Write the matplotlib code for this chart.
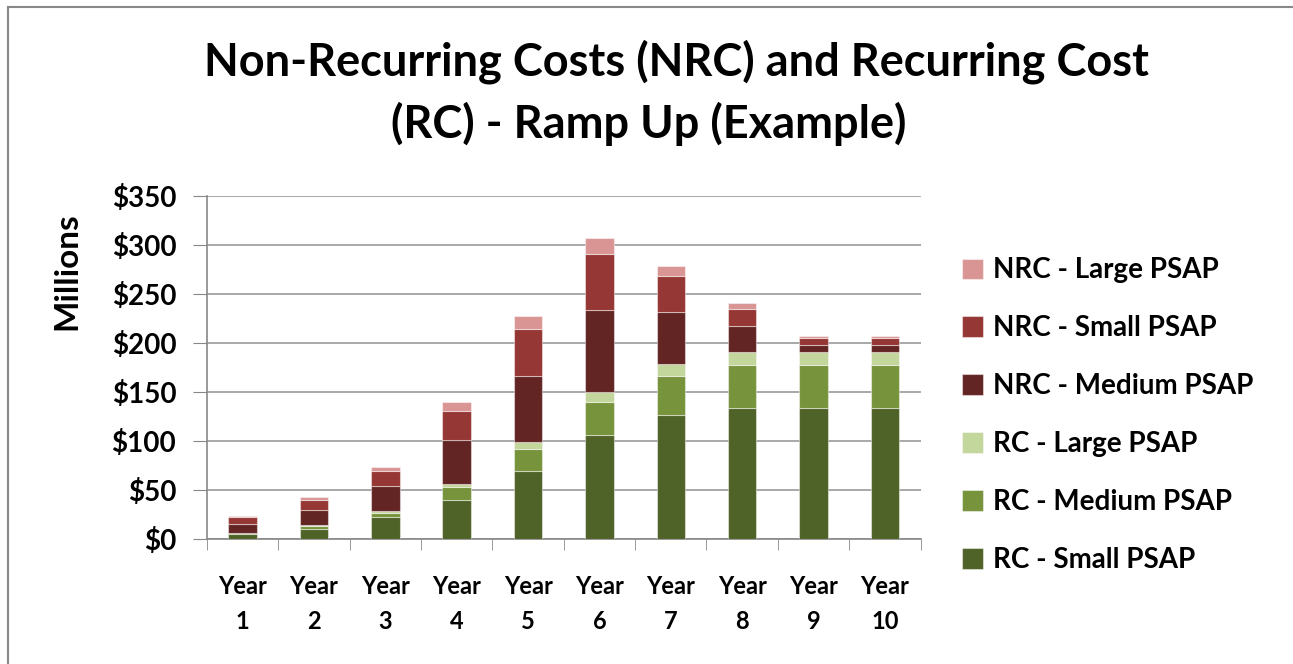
import numpy as np
import matplotlib.pyplot as plt
from matplotlib.lines import Line2D

years = ["Year\n1", "Year\n2", "Year\n3", "Year\n4", "Year\n5",
         "Year\n6", "Year\n7", "Year\n8", "Year\n9", "Year\n10"]

# millions of dollars, stacked bottom -> top
rc_small = [5.1, 10.8, 23.0, 40.0, 69.4, 106.0, 126.3, 133.7, 133.7, 133.7]
rc_medium = [1.0, 2.7, 4.0, 13.5, 22.1, 33.5, 39.7, 44.1, 44.1, 44.1]
rc_large = [0.6, 1.3, 2.1, 2.5, 7.1, 10.2, 12.9, 12.9, 12.9, 12.9]
nrc_medium = [8.5, 15.0, 25.4, 45.0, 67.4, 84.0, 53.1, 26.4, 7.5, 7.5]
nrc_small = [7.8, 10.2, 14.9, 29.7, 48.4, 56.9, 36.3, 17.7, 7.1, 7.1]
nrc_large = [0.3, 2.7, 4.1, 8.8, 12.8, 16.3, 10.5, 6.4, 1.6, 1.6]

series = [
    ("RC - Small PSAP", rc_small, "#4F6228"),
    ("RC - Medium PSAP", rc_medium, "#77933C"),
    ("RC - Large PSAP", rc_large, "#C3D69B"),
    ("NRC - Medium PSAP", nrc_medium, "#632523"),
    ("NRC - Small PSAP", nrc_small, "#953735"),
    ("NRC - Large PSAP", nrc_large, "#D99594"),
]

plt.rcParams['font.family'] = ['Lato', 'DejaVu Sans']
plt.rcParams['font.weight'] = 'bold'
plt.rcParams['axes.labelweight'] = 'bold'

fig = plt.figure(figsize=(12.93, 6.64), dpi=100)
ax = fig.add_axes([0.160, 0.188, 0.552, 0.517])

x = np.arange(len(years))
bottom = np.zeros(len(years))
handles = []
for name, vals, col in series:
    b = ax.bar(x, vals, 0.4, bottom=bottom, color=col, label=name,
               edgecolor=(1, 1, 1, 0.45), linewidth=0.8, zorder=3)
    bottom += np.array(vals)
    handles.append(b)

ax.set_xlim(-0.5, len(years) - 0.5)
ax.set_ylim(0, 350)
ax.set_yticks(np.arange(0, 351, 50))
ax.set_yticklabels(["$%d" % v for v in range(0, 351, 50)], fontsize=20)
ax.yaxis.grid(True, color="#999999", linewidth=1.2, zorder=0)
ax.set_axisbelow(True)

ax.set_xticks(x)
ax.set_xticklabels(years, fontsize=17, linespacing=1.6)
ax.set_xticks(np.arange(-0.5, len(years)), minor=True)
ax.tick_params(axis="x", which="major", length=0, pad=26)
ax.tick_params(axis="x", which="minor", length=8, color="#888888")
ax.tick_params(axis="y", length=10, color="#888888", pad=12)

for s in ["top", "right"]:
    ax.spines[s].set_visible(False)
for s in ["left", "bottom"]:
    ax.spines[s].set_color("#888888")
    ax.spines[s].set_linewidth(1.2)

ax.set_ylabel("Millions", fontsize=24)
ax.yaxis.set_label_coords(-0.176, 0.78)

fig.text(0.523, 0.907, "Non-Recurring Costs (NRC) and Recurring Cost",
         ha="center", va="center", fontsize=32.5)
fig.text(0.502, 0.813, "(RC) - Ramp Up (Example)",
         ha="center", va="center", fontsize=32.5)

fig.legend(handles[::-1], [s[0] for s in series][::-1],
           loc="upper left", bbox_to_anchor=(0.725, 0.65),
           frameon=False, fontsize=20, handlelength=0.75, handleheight=0.75,
           handletextpad=0.35, labelspacing=1.15)

# partial frame of the original chart
fig.add_artist(Line2D([0.0065, 0.0065], [0, 0.99], transform=fig.transFigure,
                      color="#888888", linewidth=1.5))
fig.add_artist(Line2D([0.0065, 1], [0.99, 0.99], transform=fig.transFigure,
                      color="#888888", linewidth=1.5))

fig.savefig("out.png", dpi=100)
